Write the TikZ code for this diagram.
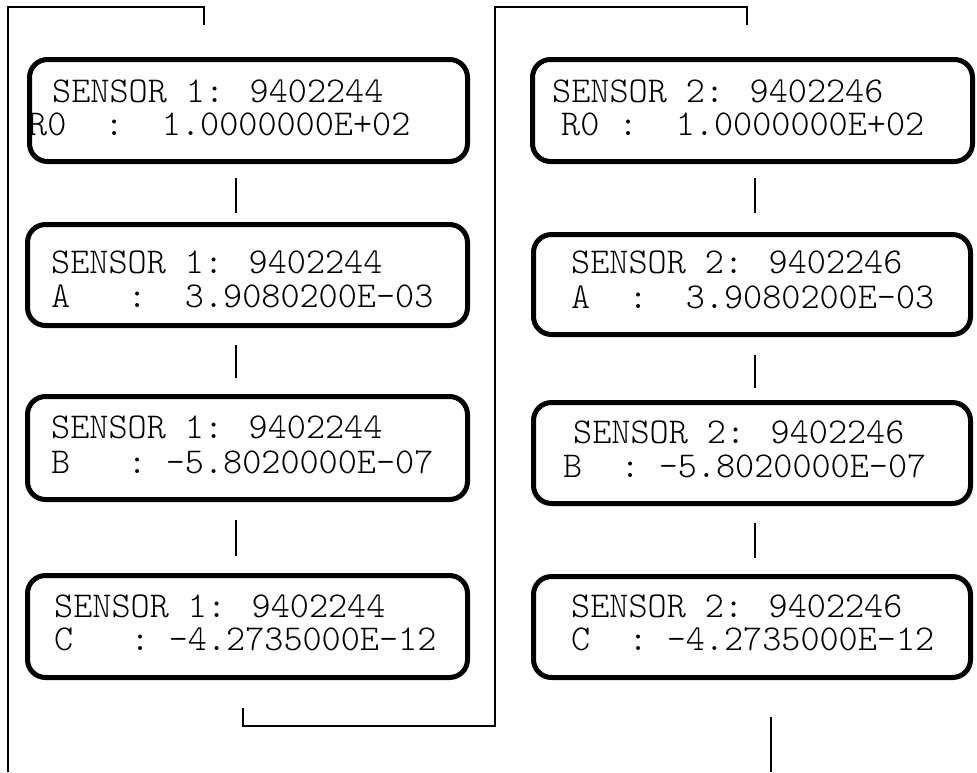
\documentclass[tikz,border=0pt]{standalone}
\usepackage{fontspec}
\newfontfamily\lcdfont{Latin Modern Mono Light}
\begin{document}
\begin{tikzpicture}[x=1pt,y=-1pt,
  box/.style={draw, line width=5pt, rounded corners=18pt, inner sep=0pt},
  txt/.style={anchor=base west, inner sep=0pt, font=\fontsize{36.4}{40}\selectfont\lcdfont},
  conn/.style={draw, line width=1.7pt},
  wire/.style={draw, line width=1.8pt}]
\useasboundingbox (0,0) rectangle (977,772);
% boxes
\node[box, minimum width=438pt, minimum height=102pt] (L1) at (248.5,110.5) {};
\node[box, minimum width=440pt, minimum height=101pt] (L2) at (247.5,275) {};
\node[box, minimum width=440pt, minimum height=103pt] (L3) at (247.5,448) {};
\node[box, minimum width=440pt, minimum height=102pt] (L4) at (247.5,626.5) {};
\node[box, minimum width=440pt, minimum height=102pt] (R1) at (752.5,110.5) {};
\node[box, minimum width=437pt, minimum height=100pt] (R2) at (752,284.5) {};
\node[box, minimum width=437pt, minimum height=101pt] (R3) at (752,453) {};
\node[box, minimum width=437pt, minimum height=101pt] (R4) at (752,627) {};
% texts
\node[txt] (L1a) at (52,102) {SENSOR 1: 9402244};
\node[txt] (L1b) at (28,135) {R0~~:~~1.0000000E+02};
\node[txt] (L2a) at (51,273) {SENSOR 1: 9402244};
\node[txt] (L2b) at (51,307) {A~~~:~~3.9080200E-03};
\node[txt] (L3a) at (51,438) {SENSOR 1: 9402244};
\node[txt] (L3b) at (51,473) {B~~~:~-5.8020000E-07};
\node[txt] (L4a) at (54,617) {SENSOR 1: 9402244};
\node[txt] (L4b) at (54,650) {C~~~:~-4.2735000E-12};
\node[txt] (R1a) at (552,102) {SENSOR 2: 9402246};
\node[txt] (R1b) at (561,135) {R0~:~~1.0000000E+02};
\node[txt] (R2a) at (571,273) {SENSOR 2: 9402246};
\node[txt] (R2b) at (571,308) {A~~:~~3.9080200E-03};
\node[txt] (R3a) at (573,443) {SENSOR 2: 9402246};
\node[txt] (R3b) at (563,477) {B~~:~-5.8020000E-07};
\node[txt] (R4a) at (571,617) {SENSOR 2: 9402246};
\node[txt] (R4b) at (571,650) {C~~:~-4.2735000E-12};
% connector columns
\coordinate (cL) at (236,0);
\coordinate (cR) at (755,0);
\draw[conn, shorten <=14pt, shorten >=9pt] (L1.south -| cL) -- (L2.north -| cL);
\draw[conn, shorten <=17pt, shorten >=16pt] (L2.south -| cL) -- (L3.north -| cL);
\draw[conn, shorten <=18pt, shorten >=17pt] (L3.south -| cL) -- (L4.north -| cL);
\draw[conn, shorten <=14pt, shorten >=19pt] (R1.south -| cR) -- (R2.north -| cR);
\draw[conn, shorten <=18pt, shorten >=12pt] (R2.south -| cR) -- (R3.north -| cR);
\draw[conn, shorten <=17pt, shorten >=16pt] (R3.south -| cR) -- (R4.north -| cR);
% outer wires
\coordinate (w1s) at (8,772);
\coordinate (w1c) at (8,7);
\coordinate (w1d) at (204,7);
\coordinate (w1e) at (204,25);
\draw[wire] (w1s) -- (w1c) -- (w1d) -- (w1e);
\coordinate (w2s) at (243,708);
\coordinate (w2a) at (243,726);
\coordinate (w2b) at (495,726);
\coordinate (w2c) at (495,7);
\coordinate (w2d) at (747,7);
\coordinate (w2e) at (747,25);
\draw[wire] (w2s) -- (w2a) -- (w2b) -- (w2c) -- (w2d) -- (w2e);
\coordinate (w3s) at (771,717);
\coordinate (w3e) at (771,772);
\draw[wire] (w3s) -- (w3e);
\end{tikzpicture}
\end{document}
